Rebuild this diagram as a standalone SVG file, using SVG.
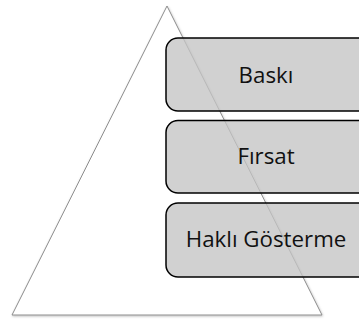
<svg xmlns="http://www.w3.org/2000/svg" width="359" height="320" viewBox="0 0 359 320">
  <defs>
    <filter id="soft" x="-10%" y="-10%" width="120%" height="120%">
      <feDropShadow dx="0.6" dy="1" stdDeviation="0.8" flood-color="#000" flood-opacity="0.25"/>
    </filter>
  </defs>
  <style>
    .tri { fill: #ffffff; stroke: #8c8c8c; stroke-width: 1; }
    .box { fill: #c4c4c4; fill-opacity: 0.78; stroke: #000; stroke-width: 1.5; }
    .lbl { font-family: "Open Sans", "Liberation Sans", sans-serif; font-size: 22.3px; fill: #111; text-anchor: middle; }
  </style>

  <!-- background pyramid -->
  <g id="pyramid">
    <polygon class="tri" points="167,6 12,315 322,315" filter="url(#soft)"/>
  </g>

  <!-- stacked stages -->
  <g id="baski">
    <rect class="box" x="166" y="38" width="205" height="73" rx="12"/>
    <text class="lbl" x="266" y="82.5">Baskı</text>
  </g>
  <g id="firsat">
    <rect class="box" x="166" y="120.5" width="205" height="72.5" rx="12"/>
    <text class="lbl" x="266" y="164">Fırsat</text>
  </g>
  <g id="hakli-gosterme">
    <rect class="box" x="166" y="203" width="205" height="74" rx="12"/>
    <text class="lbl" x="266" y="246.5">Haklı Gösterme</text>
  </g>

  <g id="connectors"/>
</svg>
